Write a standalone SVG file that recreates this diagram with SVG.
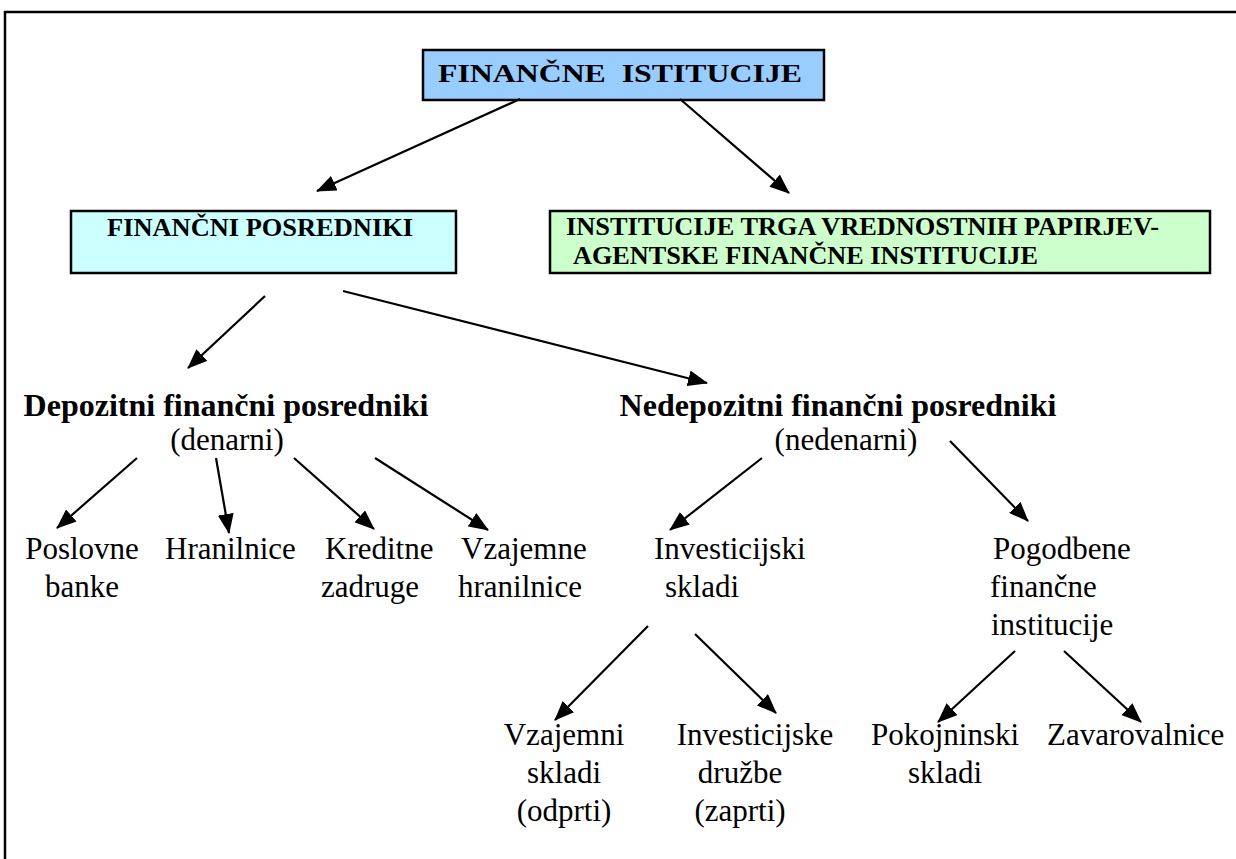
<svg xmlns="http://www.w3.org/2000/svg" width="1236" height="859" viewBox="0 0 1236 859">
<defs>
<marker id="ah" markerUnits="userSpaceOnUse" markerWidth="20" markerHeight="16" refX="19" refY="8" orient="auto">
<path d="M0,0 L20,8 L0,16 z" fill="#000"/>
</marker>
<style>
text{font-family:"Liberation Serif","Times New Roman",serif;fill:#000}
.h{font-size:32px;font-weight:bold}
.b{font-size:26px;font-weight:bold}
.r{font-size:31px}
.box{stroke:#000;stroke-width:2.5}
.c line{stroke:#000;stroke-width:2.2;marker-end:url(#ah)}
</style>
</defs>
<rect width="1236" height="859" fill="#fff"/>
<rect x="5" y="12" width="1245" height="900" fill="none" stroke="#000" stroke-width="2.5"/>

<g id="n-root">
<rect class="box" x="423" y="50" width="401" height="50" fill="#99ccff"/>
<text class="b" x="438" y="82" font-size="30" xml:space="preserve" textLength="364" lengthAdjust="spacingAndGlyphs">FINANČNE  ISTITUCIJE</text>
</g>
<g id="n-posredniki">
<rect class="box" x="71" y="211" width="385" height="62" fill="#ccffff"/>
<text class="b" x="107" y="236" textLength="306" lengthAdjust="spacingAndGlyphs">FINANČNI POSREDNIKI</text>
</g>
<g id="n-trg">
<rect class="box" x="550" y="211" width="660" height="62" fill="#ccffcc"/>
<text class="b" x="566" y="235" textLength="593" lengthAdjust="spacingAndGlyphs">INSTITUCIJE TRGA VREDNOSTNIH PAPIRJEV-</text>
<text class="b" x="573" y="264" textLength="465" lengthAdjust="spacingAndGlyphs">AGENTSKE FINANČNE INSTITUCIJE</text>
</g>
<g id="n-depozitni">
<text class="h" x="226" y="416" text-anchor="middle">Depozitni finančni posredniki</text>
<text class="r" x="227" y="450" text-anchor="middle">(denarni)</text>
</g>
<g id="n-nedepozitni">
<text class="h" x="838" y="416" text-anchor="middle">Nedepozitni finančni posredniki</text>
<text class="r" x="846" y="450" text-anchor="middle">(nedenarni)</text>
</g>
<g id="n-poslovne">
<text class="r" x="82" y="559" text-anchor="middle">Poslovne</text>
<text class="r" x="82" y="597" text-anchor="middle">banke</text>
</g>
<g id="n-hranilnice">
<text class="r" x="165" y="559">Hranilnice</text>
</g>
<g id="n-kreditne">
<text class="r" x="325" y="559">Kreditne</text>
<text class="r" x="321" y="597">zadruge</text>
</g>
<g id="n-vzajemne">
<text class="r" x="461" y="559">Vzajemne</text>
<text class="r" x="458" y="597">hranilnice</text>
</g>
<g id="n-investicijski">
<text class="r" x="654" y="559">Investicijski</text>
<text class="r" x="665" y="597">skladi</text>
</g>
<g id="n-pogodbene">
<text class="r" x="993" y="559">Pogodbene</text>
<text class="r" x="990" y="597">finančne</text>
<text class="r" x="991" y="635">institucije</text>
</g>
<g id="n-vzajemni">
<text class="r" x="564" y="745" text-anchor="middle">Vzajemni</text>
<text class="r" x="564" y="783" text-anchor="middle">skladi</text>
<text class="r" x="564" y="821" text-anchor="middle">(odprti)</text>
</g>
<g id="n-investicijske">
<text class="r" x="755" y="745" text-anchor="middle">Investicijske</text>
<text class="r" x="740" y="783" text-anchor="middle">družbe</text>
<text class="r" x="740" y="821" text-anchor="middle">(zaprti)</text>
</g>
<g id="n-pokojninski">
<text class="r" x="945" y="745" text-anchor="middle">Pokojninski</text>
<text class="r" x="945" y="783" text-anchor="middle">skladi</text>
</g>
<g id="n-zavarovalnice">
<text class="r" x="1047" y="745">Zavarovalnice</text>
</g>

<g id="connectors" class="c">
<line x1="520" y1="99" x2="317" y2="191"/>
<line x1="680" y1="99" x2="789" y2="193"/>
<line x1="265" y1="296" x2="188" y2="368"/>
<line x1="343" y1="291" x2="707" y2="383"/>
<line x1="137" y1="458" x2="57" y2="528"/>
<line x1="216" y1="458" x2="229" y2="533"/>
<line x1="294" y1="458" x2="374" y2="529"/>
<line x1="375" y1="458" x2="488" y2="530"/>
<line x1="762" y1="458" x2="670" y2="530"/>
<line x1="950" y1="441" x2="1028" y2="521"/>
<line x1="648" y1="626" x2="555" y2="720"/>
<line x1="695" y1="634" x2="776" y2="713"/>
<line x1="1015" y1="651" x2="938" y2="722"/>
<line x1="1064" y1="651" x2="1141" y2="722"/>
</g>
</svg>
